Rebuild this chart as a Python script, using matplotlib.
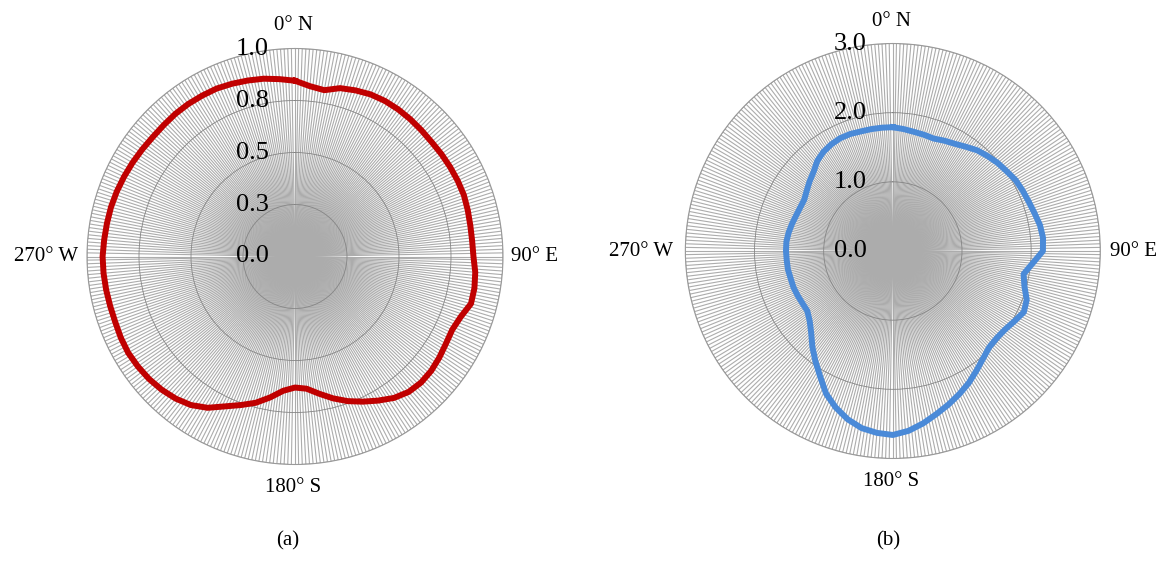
import numpy as np
import matplotlib.pyplot as plt

plt.rcParams['font.family'] = ['Liberation Serif', 'DejaVu Serif']

# direction of each sample, degrees clockwise from north
angles_deg = np.arange(0, 360, 5)

# panel (a): normalised magnitude per direction
radius_a = [0.845, 0.822, 0.812, 0.838, 0.850, 0.860, 0.864, 0.864, 0.862, 0.859,
            0.857, 0.859, 0.861, 0.863, 0.864, 0.860, 0.856, 0.855, 0.858, 0.870,
            0.876, 0.876, 0.848, 0.834, 0.838, 0.847, 0.855, 0.857, 0.850, 0.830,
            0.800, 0.770, 0.740, 0.706, 0.670, 0.638, 0.630, 0.648, 0.688, 0.728,
            0.760, 0.795, 0.840, 0.872, 0.892, 0.906, 0.916, 0.922, 0.926, 0.924,
            0.920, 0.920, 0.922, 0.924, 0.925, 0.921, 0.918, 0.916, 0.912, 0.907,
            0.902, 0.897, 0.893, 0.893, 0.895, 0.895, 0.893, 0.891, 0.884, 0.876,
            0.868, 0.856]

# panel (b)
radius_b = [1.79, 1.77, 1.75, 1.74, 1.73, 1.76, 1.79, 1.84, 1.90, 1.94,
            1.98, 2.01, 2.05, 2.07, 2.09, 2.12, 2.16, 2.18, 2.17, 2.03,
            1.92, 1.97, 2.06, 2.09, 2.03, 1.98, 1.96, 1.97, 2.03, 2.11,
            2.20, 2.28, 2.36, 2.44, 2.53, 2.61, 2.66, 2.64, 2.60, 2.52,
            2.41, 2.28, 2.10, 1.95, 1.81, 1.67, 1.57, 1.51, 1.51, 1.52,
            1.53, 1.53, 1.54, 1.54, 1.545, 1.545, 1.53, 1.51, 1.49, 1.48,
            1.48, 1.52, 1.57, 1.62, 1.70, 1.75, 1.78, 1.80, 1.80, 1.79,
            1.79, 1.79]

ticks_a = [0.0, 0.25, 0.5, 0.75, 1.0]
ticklabels_a = ['0.0', '0.3', '0.5', '0.8', '1.0']
ticks_b = [0.0, 1.0, 2.0, 3.0]
ticklabels_b = ['0.0', '1.0', '2.0', '3.0']
compass = ['0° N', '90° E', '180° S', '270° W']

W, H = 1163, 570


def draw_panel(ax, radius, rmax, ticks, ticklabels, color):
    ax.set_theta_zero_location('N')
    ax.set_theta_direction(-1)
    # one spoke per degree
    ax.set_thetagrids(np.arange(0, 360, 1), [''] * 360)
    ax.set_ylim(0, rmax)
    ax.set_yticks(ticks)
    ax.set_yticklabels([])
    ax.xaxis.grid(True, color='#acacac', lw=0.8)
    ax.yaxis.grid(True, color='#858585', lw=0.6)
    ax.spines['polar'].set_color('#9a9a9a')
    ax.spines['polar'].set_linewidth(0.8)

    theta = np.deg2rad(np.append(angles_deg, 360))
    r = np.append(radius, radius[0])
    ax.plot(theta, r, color=color, lw=4.3, solid_joinstyle='round', zorder=5)

    for t, lab in zip(ticks, ticklabels):
        ax.annotate(lab, xy=(0, t), xytext=(-19, 0), textcoords='offset points',
                    ha='right', va='center', fontsize=19, annotation_clip=False,
                    zorder=6)


def compass_labels(cx, top, bottom, left, right, cy):
    kw = dict(fontsize=15, va='center')
    fig.text(cx / W, 1 - top / H, compass[0], ha='center', **kw)
    fig.text(right / W, 1 - cy / H, compass[1], ha='left', **kw)
    fig.text(cx / W, 1 - bottom / H, compass[2], ha='center', **kw)
    fig.text(left / W, 1 - cy / H, compass[3], ha='right', **kw)


fig = plt.figure(figsize=(11.63, 5.70), dpi=100)
ax1 = fig.add_axes([0.0748, 0.1851, 0.3577, 0.7298], projection='polar')
ax2 = fig.add_axes([0.5893, 0.1956, 0.3568, 0.7281], projection='polar')

draw_panel(ax1, radius_a, 1.0, ticks_a, ticklabels_a, '#c00000')
draw_panel(ax2, radius_b, 3.0, ticks_b, ticklabels_b, '#4a8ad8')

compass_labels(293, 26, 488, 78, 511, 256)
compass_labels(891, 21, 481, 673, 1110, 252)

fig.text(0.2476, 0.052, '(a)', ha='center', va='center', fontsize=15)
fig.text(0.7635, 0.052, '(b)', ha='center', va='center', fontsize=15)

fig.savefig('out.png', dpi=100)
